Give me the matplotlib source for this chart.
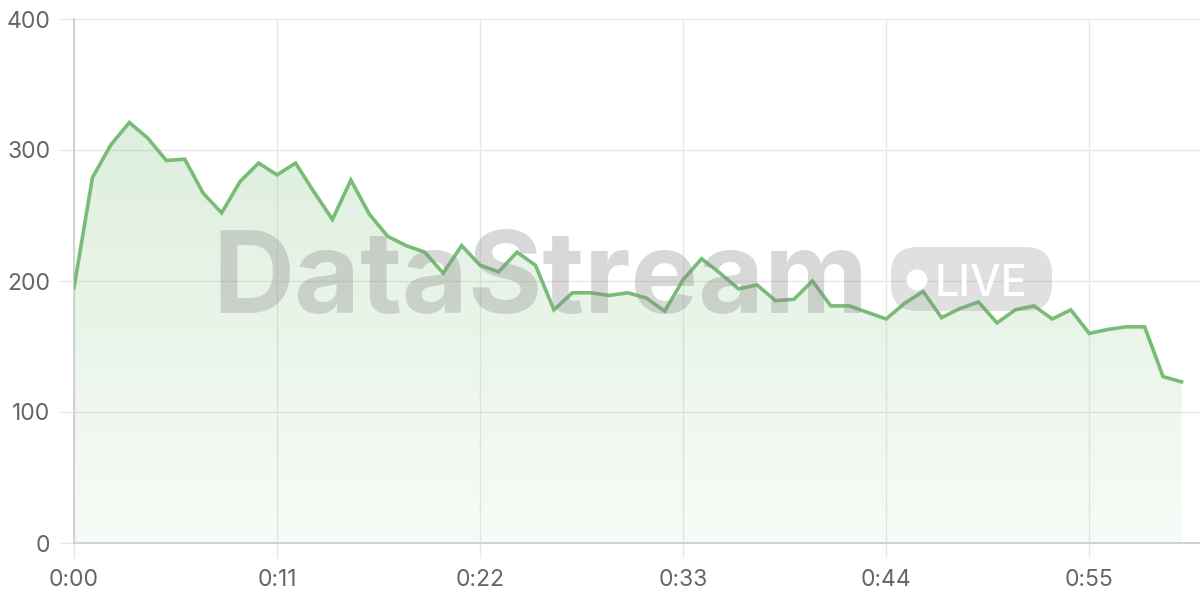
import numpy as np
import matplotlib.pyplot as plt
from matplotlib.patches import FancyBboxPatch, Ellipse

# samples, one per second
values = [195, 279, 304, 321, 309, 292, 293, 267, 252, 276,
          290, 281, 290, 268, 247, 277, 251, 234, 227, 222,
          206, 227, 212, 207, 222, 212, 178, 191, 191, 189,
          191, 187, 177, 201, 217, 206, 194, 197, 185, 186,
          200, 181, 181, 176, 171, 183, 192, 172, 179, 184,
          168, 178, 181, 171, 178, 160, 163, 165, 165, 127, 123]
tick_secs = [0, 11, 22, 33, 44, 55]
y_ticks = [0, 100, 200, 300, 400]

LINE = '#78bc78'
GRID = '#e8e8e8'
AXIS = '#cfcfcf'
LABEL = '#666666'

plt.rcParams['font.family'] = ['Inter', 'DejaVu Sans']

secs = np.arange(len(values))
vals = np.array(values, dtype=float)

fig = plt.figure(figsize=(12, 6), dpi=100)
ax = fig.add_axes([74/1200, 57/600, 1126/1200, 524/600])
ax.set_xlim(0, 61)
ax.set_ylim(0, 400)

# gradient fill under the line
grad = np.zeros((256, 1, 4))
grad[:, 0, 0] = 120/255
grad[:, 0, 1] = 190/255
grad[:, 0, 2] = 120/255
grad[:, 0, 3] = np.linspace(0.30, 0.06, 256)
im = ax.imshow(grad, extent=[0, 61, 0, 400], origin='upper', aspect='auto', zorder=1)
poly = ax.fill_between(secs, vals, 0, color='none', lw=0)
im.set_clip_path(poly.get_paths()[0], transform=ax.transData)

ax.plot(secs, vals, color=LINE, lw=2.6, zorder=5, solid_joinstyle='miter')

# grid / axes
ax.set_xticks(tick_secs)
ax.set_xticklabels([f"{s // 60}:{s % 60:02d}" for s in tick_secs])
ax.set_yticks(y_ticks)
ax.grid(True, color=GRID, lw=1.0, zorder=0)
ax.set_axisbelow(True)
for side in ['top', 'right']:
    ax.spines[side].set_visible(False)
for side in ['left', 'bottom']:
    ax.spines[side].set_color(AXIS)
    ax.spines[side].set_linewidth(1.3)
ax.tick_params(axis='both', length=11, width=1.0, color=GRID, labelcolor=LABEL,
               labelsize=16.5, pad=6)
ax.tick_params(axis='x', pad=8)

# watermark - size it to span ~212..868 px
wm = fig.text(212/1200, 1 - 313/600, 'DataStream', fontsize=84,
              fontweight='bold', color='#8a8a8a', alpha=0.33, ha='left', va='baseline',
              zorder=3)
fig.canvas.draw()
w = wm.get_window_extent().width
wm.set_fontsize(84 * 656 / w)

badge = FancyBboxPatch((891/1200, 1 - 311/600), 161/1200, 64/600,
                       boxstyle='round,pad=0,rounding_size=0.022',
                       transform=fig.transFigure, facecolor='#8a8a8a', alpha=0.26,
                       edgecolor='none', zorder=3, mutation_aspect=2.0)
fig.patches.append(badge)
fig.patches.append(Ellipse((917/1200, 1 - 280/600), 21/1200, 21/600,
                           transform=fig.transFigure, facecolor='white',
                           edgecolor='none', zorder=4))
fig.text(935/1200, 1 - 296/600, 'LIVE', fontsize=31, fontweight='medium',
         color='white', ha='left', va='baseline', zorder=4)

fig.savefig('out.png', dpi=100)
